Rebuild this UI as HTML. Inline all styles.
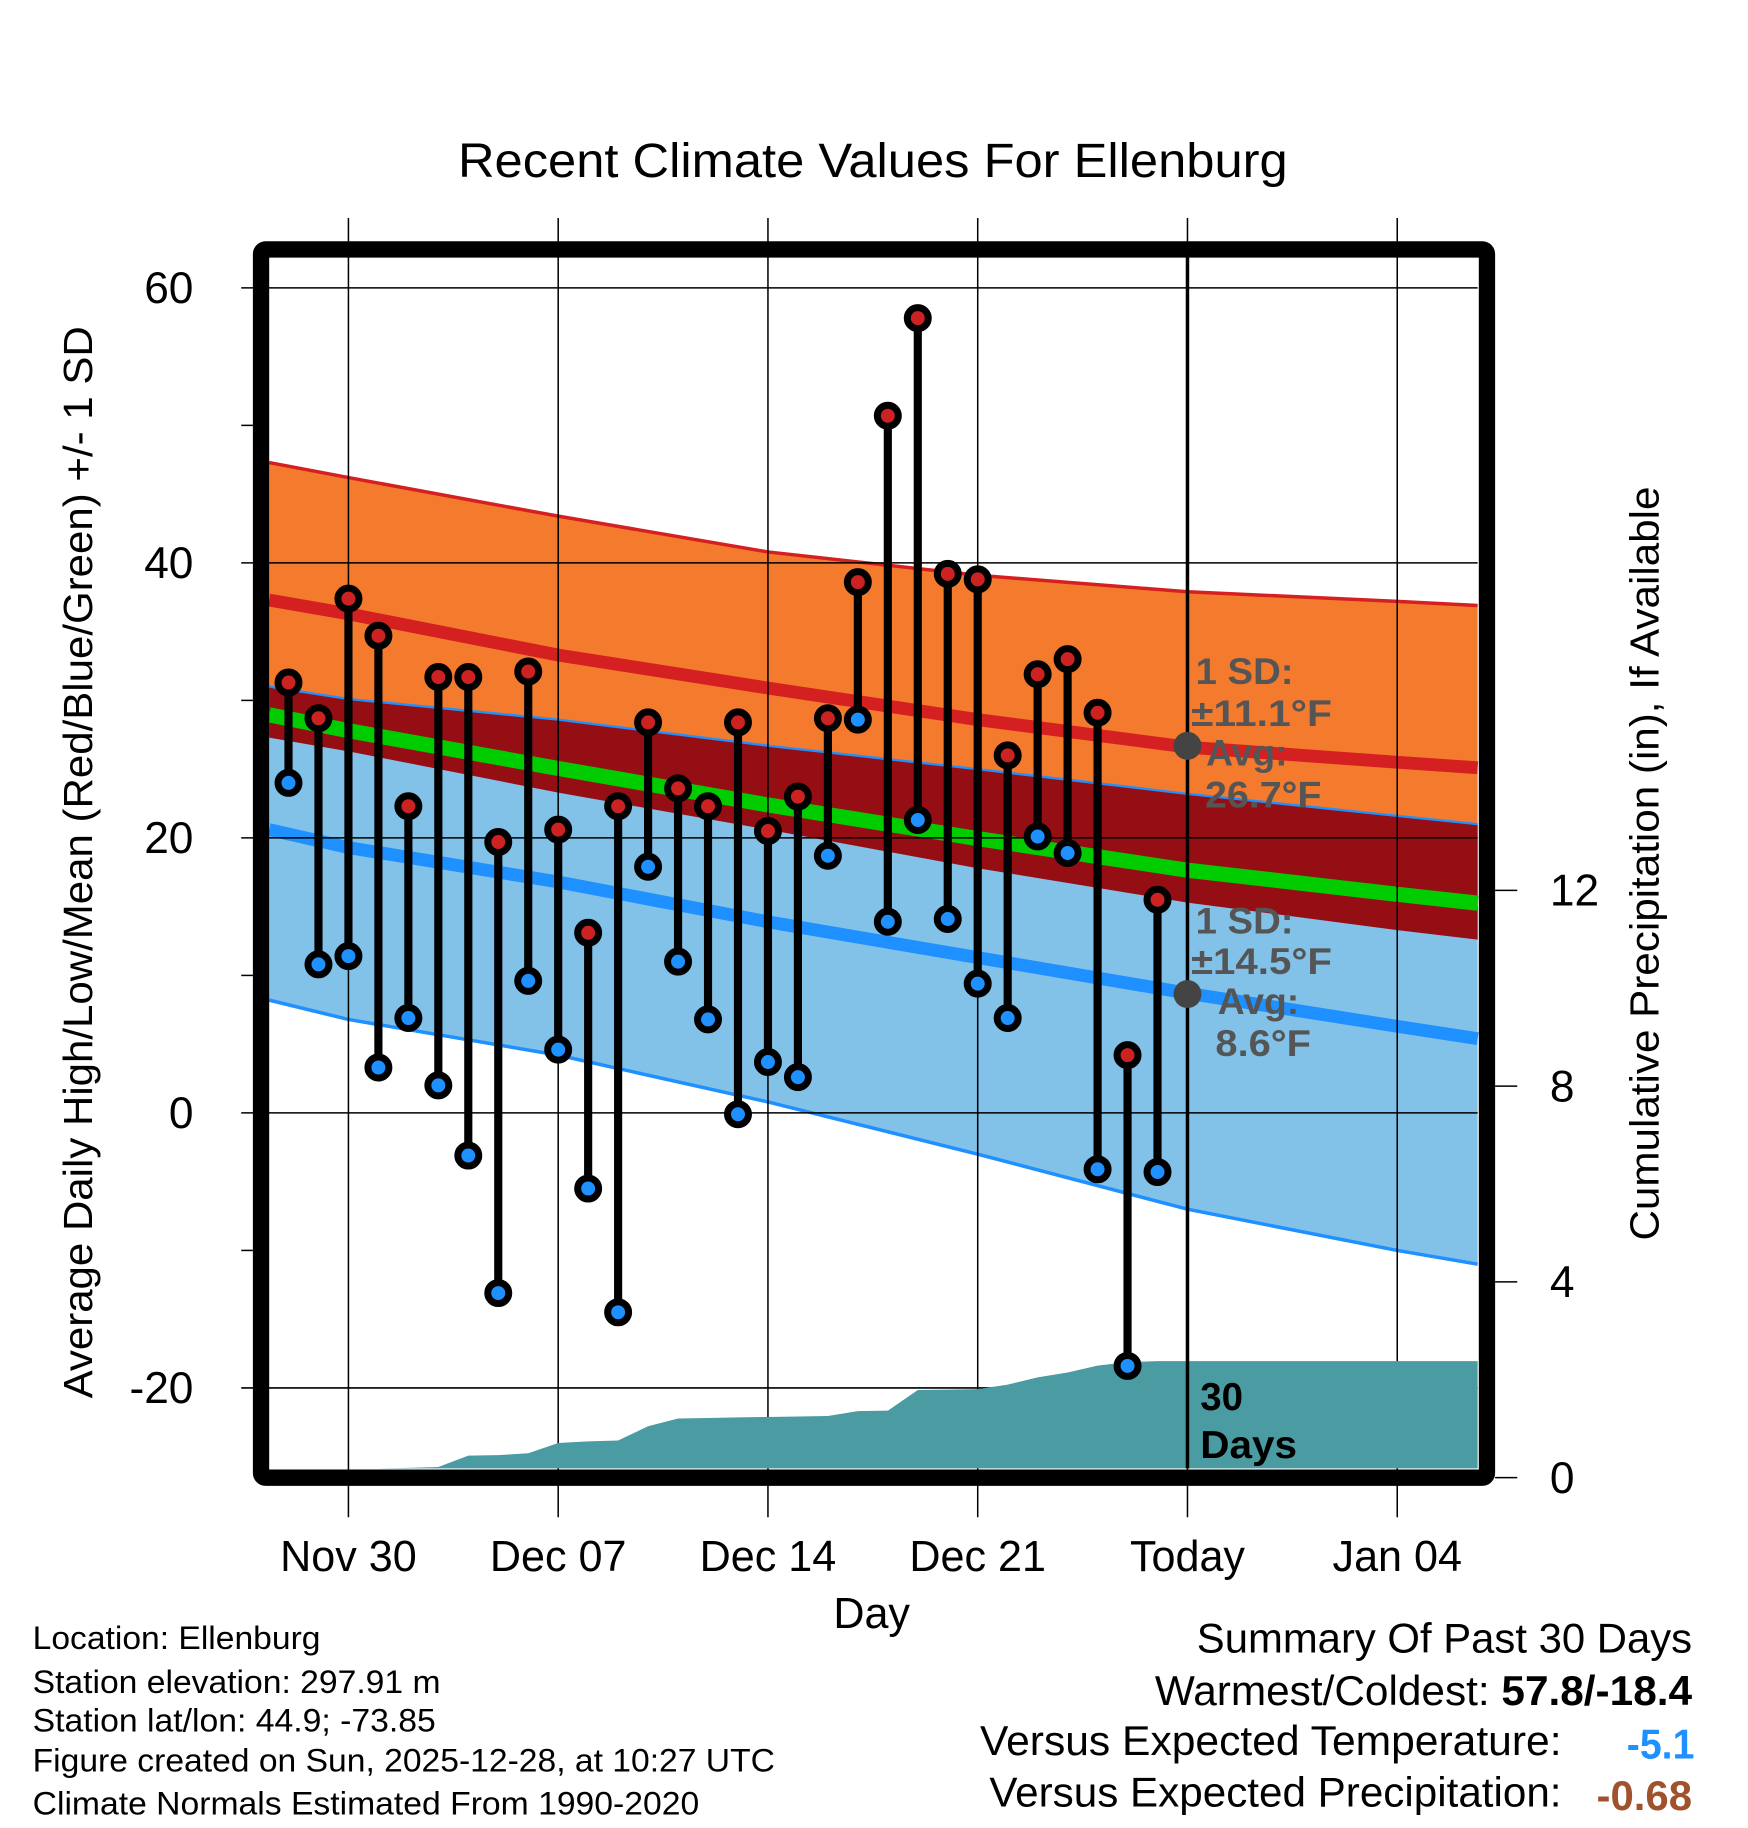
<!DOCTYPE html>
<html><head><meta charset="utf-8"><style>
html,body{margin:0;padding:0;background:#fff}
svg{display:block}
text{font-family:"Liberation Sans",sans-serif}
</style></head><body>
<svg id="chart" width="1748" height="1828" viewBox="0 0 1500 1568.6" xmlns="http://www.w3.org/2000/svg">
<rect x="0" y="0" width="1500" height="1568.6" fill="#fff"/>
<text x="749" y="152" font-size="41" text-anchor="middle" textLength="712" lengthAdjust="spacingAndGlyphs">Recent Climate Values For Ellenburg</text>
<g id="bands"></g>
<g id="grid"></g>
<g id="precip"></g>
<g id="points"></g>
<g id="annot" font-weight="bold" fill="#555" font-size="32">
<text x="1026" y="587" textLength="84" lengthAdjust="spacingAndGlyphs">1 SD:</text>
<text x="1022" y="623" textLength="121" lengthAdjust="spacingAndGlyphs">±11.1°F</text>
<text x="1035" y="657">Avg:</text>
<text x="1034" y="693" textLength="100" lengthAdjust="spacingAndGlyphs">26.7°F</text>
<text x="1026" y="801" textLength="84" lengthAdjust="spacingAndGlyphs">1 SD:</text>
<text x="1022" y="836" textLength="121" lengthAdjust="spacingAndGlyphs">±14.5°F</text>
<text x="1045" y="870">Avg:</text>
<text x="1043" y="906" textLength="82" lengthAdjust="spacingAndGlyphs">8.6°F</text>
<circle cx="1019" cy="640" r="12" fill="#444"/>
<circle cx="1019" cy="853" r="12" fill="#444"/>
<text x="1030" y="1210" font-size="33" fill="#000">30</text>
<text x="1030" y="1251" font-size="33" fill="#000" textLength="83" lengthAdjust="spacingAndGlyphs">Days</text>
</g>
<rect x="224" y="214" width="1052" height="1054" fill="none" stroke="#000" stroke-width="14" rx="4"/>
<g id="labels"></g>
<text x="748" y="1397" font-size="37" text-anchor="middle">Day</text>
<text transform="translate(79,740) rotate(-90)" font-size="35" text-anchor="middle" textLength="920" lengthAdjust="spacingAndGlyphs">Average Daily High/Low/Mean (Red/Blue/Green) +/- 1 SD</text>
<text transform="translate(1423,741) rotate(-90)" font-size="35" text-anchor="middle" textLength="647" lengthAdjust="spacingAndGlyphs">Cumulative Precipitation (in), If Available</text>
<g font-size="28">
<text x="28" y="1415" textLength="247" lengthAdjust="spacingAndGlyphs">Location: Ellenburg</text>
<text x="28" y="1453" textLength="350" lengthAdjust="spacingAndGlyphs">Station elevation: 297.91 m</text>
<text x="28" y="1486" textLength="346" lengthAdjust="spacingAndGlyphs">Station lat/lon: 44.9; -73.85</text>
<text x="28" y="1520" textLength="637" lengthAdjust="spacingAndGlyphs">Figure created on Sun, 2025-12-28, at 10:27 UTC</text>
<text x="28" y="1557" textLength="572" lengthAdjust="spacingAndGlyphs">Climate Normals Estimated From 1990-2020</text>
</g>
<g font-size="36">
<text x="1027" y="1418" textLength="425" lengthAdjust="spacingAndGlyphs">Summary Of Past 30 Days</text>
<text x="991" y="1463" textLength="461" lengthAdjust="spacingAndGlyphs">Warmest/Coldest: <tspan font-weight="bold">57.8/-18.4</tspan></text>
<text x="841" y="1506" textLength="499" lengthAdjust="spacingAndGlyphs">Versus Expected Temperature:</text>
<text x="1396" y="1509" fill="#1e90ff" font-weight="bold" textLength="58" lengthAdjust="spacingAndGlyphs">-5.1</text>
<text x="849" y="1550" textLength="491" lengthAdjust="spacingAndGlyphs">Versus Expected Precipitation:</text>
<text x="1370" y="1553" fill="#a0522d" font-weight="bold" textLength="82" lengthAdjust="spacingAndGlyphs">-0.68</text>
</g>
</svg>
<script>
// observed data (day offset from Nov 30)
const days = [-2,-1,0,1,2,3,4,5,6,7,8,9,10,11,12,13,14,15,16,17,18,19,20,21,22,23,24,25,26,27];
const highs = [31.3,28.7,37.4,34.7,22.3,31.7,31.7,19.7,32.1,20.6,13.1,22.3,28.4,23.6,22.3,28.4,20.5,23.0,28.7,38.6,50.7,57.8,39.2,38.8,26.0,31.9,33.0,29.1,4.2,15.5];
const lows = [24.0,10.8,11.4,3.3,6.9,2.0,-3.1,-13.1,9.6,4.6,-5.5,-14.5,17.9,11.0,6.8,-0.1,3.7,2.6,18.7,28.6,13.9,21.3,14.1,9.4,6.9,20.1,18.9,-4.1,-18.4,-4.3];
const precip = [0,0,0,0,0.2,0.22,0.45,0.46,0.5,0.71,0.74,0.76,1.05,1.21,1.22,1.23,1.24,1.25,1.26,1.36,1.37,1.79,1.8,1.81,1.9,2.05,2.15,2.29,2.36,2.38];
// normals
const normDays = [-2.7,0,7,14,21,28,35,37.7];
const highUpper = [47.3,46.2,43.4,40.8,39.1,37.9,37.2,36.9];
const highAvg = [37.3,36.3,33.3,30.9,28.6,26.6,25.5,25.1];
const highLower = [27.3,26.3,23.3,20.6,17.8,15.3,13.3,12.6];
const lowUpper = [31.0,30.1,28.6,26.7,25.0,23.2,21.6,21.0];
const lowAvg = [20.6,19.3,16.8,13.9,11.3,8.7,6.3,5.4];
const lowLower = [8.2,6.8,4.2,0.8,-3.0,-7.0,-10.0,-11.0];
const xTickDays = [0,7,14,21,28,35];
const xTickLabels = ["Nov 30","Dec 07","Dec 14","Dec 21","Today","Jan 04"];
const yTicks = [60,40,20,0,-20];
const yMinor = [50,30,10,-10];
const pTicks = [0,4,8,12];
const todayDay = 28;

const NS="http://www.w3.org/2000/svg";
const X0=231,X1=1268,Y0=221,Y1=1260;
const xs=d=>299+d*180/7;
const ys=v=>955-11.8*v;
const yp=p=>1268-42*p;
function mk(tag,attrs,parent){const e=document.createElementNS(NS,tag);for(const k in attrs)e.setAttribute(k,attrs[k]);parent.appendChild(e);return e;}
function line(arr){return normDays.map((d,i)=>[Math.max(X0,Math.min(X1,xs(d))),ys(arr[i])]);}
function pts(a){return a.map(p=>p[0].toFixed(1)+","+p[1].toFixed(1)).join(" ");}
function band(up,lo){const u=line(up),l=line(lo).reverse();return pts(u.concat(l));}

const bands=document.getElementById('bands');
let e;
e=mk('polygon',{points:band(highUpper,highLower),fill:'#f47a2e'},bands);


e=mk('polygon',{points:band(lowUpper,lowLower),fill:'#82c1e8'},bands);


e=mk('polygon',{points:band(lowUpper,highLower),fill:'#950e14'},bands);


e=mk('polyline',{points:pts(line(highUpper)),fill:'none',stroke:'#d42020','stroke-width':3},bands);


e=mk('polyline',{points:pts(line(lowUpper)),fill:'none',stroke:'#1e90ff','stroke-width':2},bands);


e=mk('polyline',{points:pts(line(lowLower)),fill:'none',stroke:'#1e90ff','stroke-width':3},bands);


e=mk('polyline',{points:pts(line(highAvg)),fill:'none',stroke:'#d42020','stroke-width':11},bands);


e=mk('polyline',{points:pts(line(lowAvg)),fill:'none',stroke:'#1e90ff','stroke-width':11},bands);


const meanArr=highAvg.map((h,i)=>(h+lowAvg[i])/2);
e=mk('polyline',{points:pts(line(meanArr)),fill:'none',stroke:'#00cc00','stroke-width':13},bands);



const grid=document.getElementById('grid');
xTickDays.forEach(d=>{
  e=mk('line',{x1:xs(d),x2:xs(d),y1:187,y2:1302,stroke:'#000','stroke-width':1.3},grid);
  
  
});
yTicks.forEach(v=>{
  e=mk('line',{x1:207,x2:X1,y1:ys(v),y2:ys(v),stroke:'#000','stroke-width':1.3},grid);
  
  
});
yMinor.forEach(v=>{
  e=mk('line',{x1:207,x2:217,y1:ys(v),y2:ys(v),stroke:'#000','stroke-width':1.3},grid);
  
  
});
pTicks.forEach(p=>{
  e=mk('line',{x1:1283,x2:1302,y1:yp(p),y2:yp(p),stroke:'#000','stroke-width':1.3},grid);
  
  
});

const pg=document.getElementById('precip');
let pp=[];
days.forEach((d,i)=>pp.push([xs(d),Math.min(Y1,yp(precip[i]))]));
pp.push([X1,Math.min(Y1,yp(precip[precip.length-1]))]);
pp.push([X1,Y1]);
pp.push([xs(days[0]),Y1]);
e=mk('polygon',{points:pts(pp),fill:'#4a9ba2'},pg);


e=mk('line',{x1:xs(todayDay),x2:xs(todayDay),y1:Y0,y2:Y1,stroke:'#000','stroke-width':3},pg);



const pgp=document.getElementById('points');
days.forEach((d,i)=>{
  const x=xs(d);
  e=mk('line',{x1:x,x2:x,y1:ys(highs[i]),y2:ys(lows[i]),stroke:'#000','stroke-width':7},pgp);
  
  
});
days.forEach((d,i)=>{
  const x=xs(d);
  e=mk('circle',{cx:x,cy:ys(highs[i]),r:9,fill:'#cc2222',stroke:'#000','stroke-width':6},pgp);
  
  
  e=mk('circle',{cx:x,cy:ys(lows[i]),r:9,fill:'#1e90ff',stroke:'#000','stroke-width':6},pgp);
  
  
});

const lab=document.getElementById('labels');
yTicks.forEach(v=>{
  e=mk('text',{x:166,y:ys(v)+13,'font-size':38,'text-anchor':'end'},lab);
  e.textContent=String(v);
  
  
});
pTicks.forEach(p=>{
  e=mk('text',{x:1330,y:yp(p)+13,'font-size':38},lab);
  e.textContent=String(p);
  
  
});
xTickDays.forEach((d,i)=>{
  e=mk('text',{x:xs(d),y:1348,'font-size':37,'text-anchor':'middle'},lab);
  e.textContent=xTickLabels[i];
  
  
});
</script>
</body></html>
